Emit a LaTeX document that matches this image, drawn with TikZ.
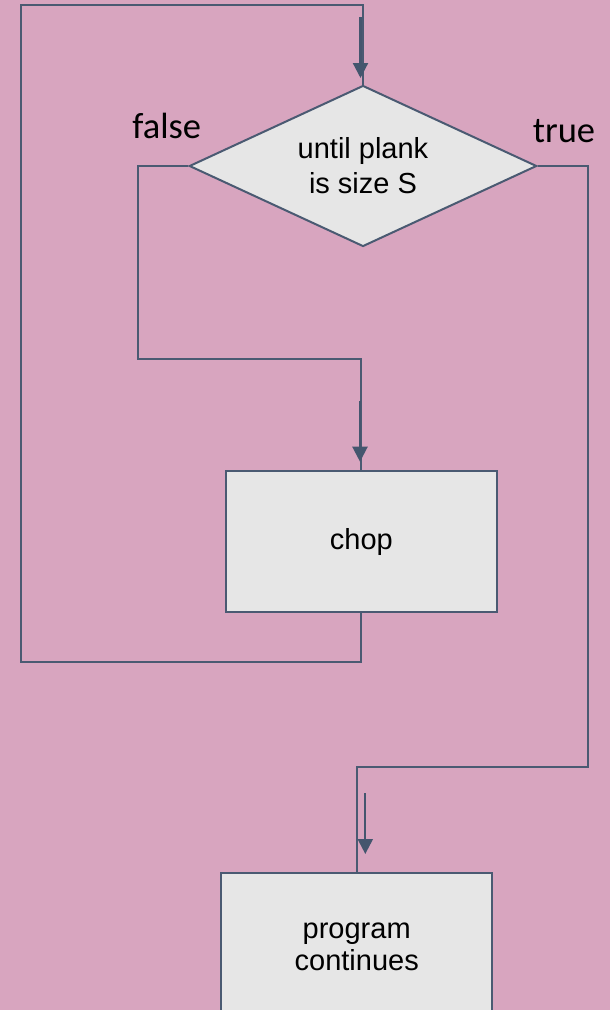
\documentclass[tikz,border=0pt]{standalone}
\usepackage{fontspec}
\setmainfont{Liberation Sans}
\newfontfamily\lblfont{Carlito}
\usetikzlibrary{shapes.geometric,arrows.meta}
\definecolor{bgpink}{HTML}{D8A5BF}
\definecolor{edge}{HTML}{4A5A72}
\definecolor{tipcol}{HTML}{44566E}
\definecolor{boxfill}{HTML}{E6E6E6}
\tikzset{
  conn/.style={draw=edge,line width=2pt},
  flowarrow/.style={draw=tipcol,line width=2.2pt,-{Triangle[width=15pt,length=15pt]},fill=tipcol},
  procbox/.style={rectangle,draw=edge,line width=2pt,fill=boxfill,inner sep=0pt,
    font=\fontsize{29}{32}\selectfont,align=center},
  decbox/.style={diamond,draw=edge,line width=2pt,fill=boxfill,inner sep=0pt,
    shape aspect=2.158,font=\fontsize{29}{35}\selectfont,align=center},
  branchlbl/.style={font=\lblfont\fontsize{36.5}{40}\selectfont,anchor=base,inner sep=0pt}
}
\begin{document}
\begin{tikzpicture}[x=1pt,y=-1pt]
\fill[bgpink] (0,0) rectangle (610,1010);
\useasboundingbox (0,0) rectangle (610,1010);
\clip (0,0) rectangle (610,1010);

\node[decbox,minimum width=347.4pt,minimum height=161pt] (dia) at (363,166) {until plank\\is size S};
\node[procbox,minimum width=270.7pt,minimum height=141.6pt] (chop) at (361.4,541.5) {chop};
\node[procbox,minimum width=271.3pt,minimum height=147pt] (prog) at (356.7,946.5) {program\\continues};

\node[branchlbl] (lfalse) at (166.7,138) {false};
\node[branchlbl] (ltrue) at (564,142) {true};

% connectors
\draw[conn] (dia.west) -- (138.3,166) |- (361.4,359) -- (chop.north);
\draw[conn] (chop.south) |- (20.7,661.5) -- (20.7,5) -| (dia.north);
\draw[conn] (dia.east) -| (588,766.5) -| (prog.north);

% direction arrows
\coordinate (a1s) at (360.5,17);
\coordinate (a1e) at (360.5,78);
\coordinate (a2s) at (360,400.7);
\coordinate (a2e) at (360,461.7);
\coordinate (a3s) at (365.3,793);
\coordinate (a3e) at (365.3,854);
\draw[flowarrow] (a1s) -- (a1e);
\draw[flowarrow] (a2s) -- (a2e);
\draw[flowarrow] (a3s) -- (a3e);
\end{tikzpicture}
\end{document}
